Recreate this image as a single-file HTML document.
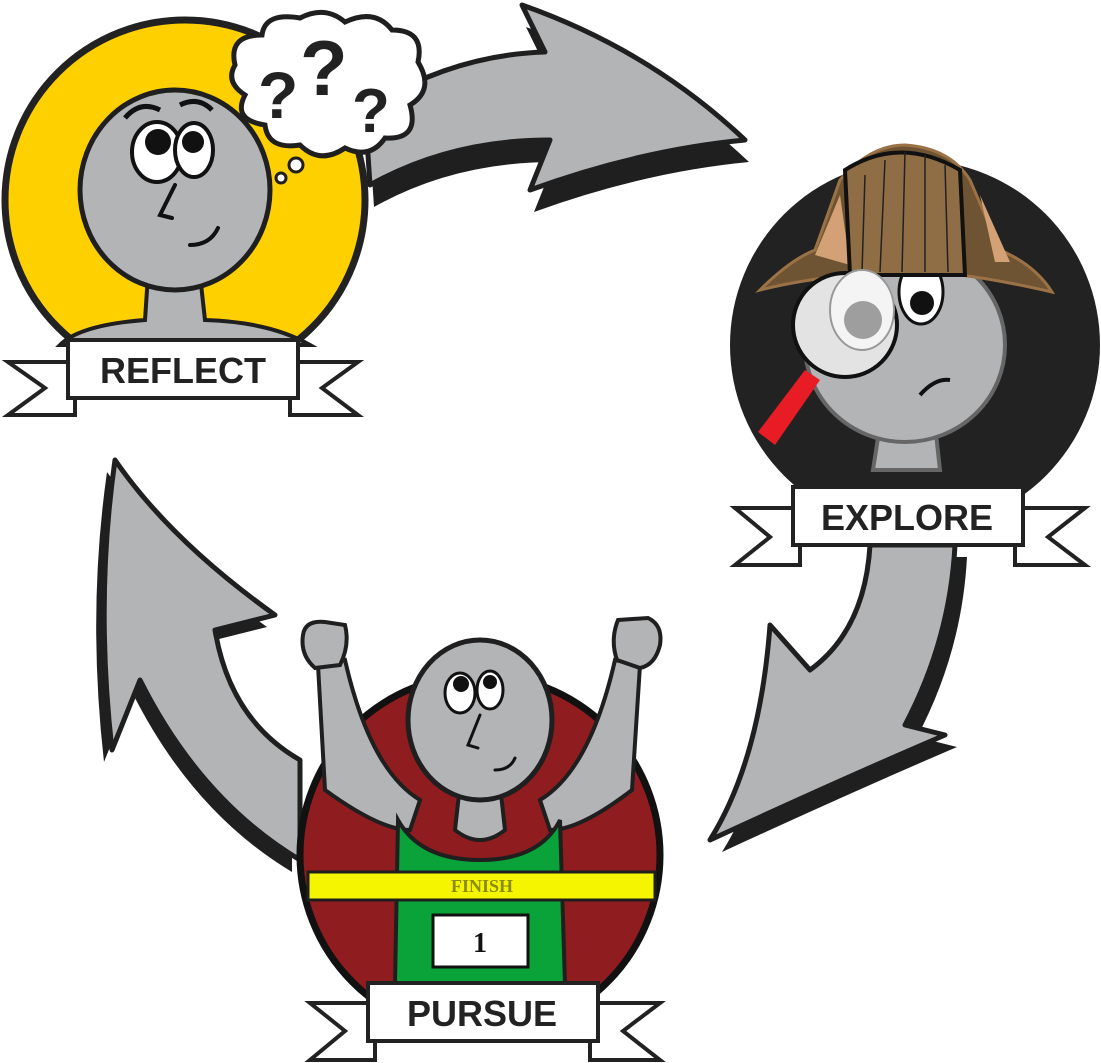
<!DOCTYPE html>
<html><head><meta charset="utf-8"><style>
html,body{margin:0;padding:0;background:#fff;}
svg{display:block;}
text{font-weight:bold;}
.lbl{font-family:"Liberation Sans",sans-serif;}
.ser{font-family:"Liberation Serif",serif;}
</style></head><body>
<svg width="1101" height="1063" viewBox="0 0 1101 1063" xmlns="http://www.w3.org/2000/svg">
<g transform="translate(4,22)"><path d="M365,110 Q450,55 545,52 L522,5 Q650,50 745,140 Q640,150 530,190 L550,140 Q450,140 370,185 Z" fill="#1f1f1f"/></g>
<path d="M365,110 Q450,55 545,52 L522,5 Q650,50 745,140 Q640,150 530,190 L550,140 Q450,140 370,185 Z" fill="#b3b4b6" stroke="#1f1f1f" stroke-width="5" stroke-linejoin="round"/>
<g transform="translate(12,12)"><path d="M870,545 Q865,630 810,670 L770,625 Q760,760 710,840 Q840,780 945,735 L905,725 Q950,640 955,545 Z" fill="#1f1f1f"/></g>
<path d="M870,545 Q865,630 810,670 L770,625 Q760,760 710,840 Q840,780 945,735 L905,725 Q950,640 955,545 Z" fill="#b3b4b6" stroke="#1f1f1f" stroke-width="5" stroke-linejoin="round"/>
<g transform="translate(-8,12)"><path d="M300,760 Q230,720 215,630 L275,615 Q170,540 115,460 Q95,600 112,750 L140,680 Q200,800 300,860 Z" fill="#1f1f1f"/></g>
<path d="M300,760 Q230,720 215,630 L275,615 Q170,540 115,460 Q95,600 112,750 L140,680 Q200,800 300,860 Z" fill="#b3b4b6" stroke="#1f1f1f" stroke-width="5" stroke-linejoin="round"/>

<circle cx="185" cy="200" r="180" fill="#ffd000" stroke="#222" stroke-width="7"/>
<path d="M148,275 L145,320 Q80,325 60,345 L310,345 Q270,322 205,320 L200,275 Z" fill="#b3b4b6" stroke="#1f1f1f" stroke-width="4"/>
<ellipse cx="175" cy="190" rx="95" ry="100" fill="#b3b4b6" stroke="#1f1f1f" stroke-width="5"/>
<ellipse cx="157" cy="152" rx="25" ry="30" fill="#fff" stroke="#111" stroke-width="4"/>
<ellipse cx="194" cy="150" rx="19" ry="27" fill="#fff" stroke="#111" stroke-width="4"/>
<circle cx="158" cy="142" r="13" fill="#111"/><circle cx="193" cy="142" r="11" fill="#111"/>
<path d="M125,118 Q140,100 160,110 M180,105 Q198,96 212,110" stroke="#111" stroke-width="5" fill="none"/>
<path d="M175,185 L160,215 L172,218 M190,245 Q210,245 218,228" stroke="#111" stroke-width="4" fill="none" stroke-linecap="round"/>
<path d="M235,65 Q228,35 262,35 Q265,12 300,18 Q325,5 345,22 Q375,8 392,30 Q425,30 418,62 Q435,90 410,105 Q420,140 385,138 Q370,160 345,148 Q320,165 300,145 Q268,150 265,125 Q232,120 245,95 Q225,82 235,65 Z" fill="#fff" stroke="#1f1f1f" stroke-width="5"/>
<circle cx="296" cy="165" r="7" fill="#fff" stroke="#1f1f1f" stroke-width="3"/>
<circle cx="281" cy="178" r="5" fill="#fff" stroke="#1f1f1f" stroke-width="3"/>
<text class="lbl" x="258" y="118" font-size="66" fill="#222">?</text>
<text class="lbl" x="300" y="95" font-size="78" fill="#222">?</text>
<text class="lbl" x="352" y="132" font-size="62" fill="#222">?</text>
<path d="M8,362 L75,362 L75,415 L8,415 L45,388 Z" fill="#fff" stroke="#222" stroke-width="4"/>
<path d="M358,362 L290,362 L290,415 L358,415 L322,388 Z" fill="#fff" stroke="#222" stroke-width="4"/>
<rect x="68" y="340" width="230" height="58" fill="#fff" stroke="#222" stroke-width="4"/>
<text class="lbl" x="183" y="383" font-size="36" text-anchor="middle" fill="#222">REFLECT</text>

<circle cx="915" cy="345" r="185" fill="#222"/>
<path d="M880,425 L873,470 L940,470 L935,425 Z" fill="#b3b4b6" stroke="#666" stroke-width="4"/>
<ellipse cx="905" cy="345" rx="100" ry="97" fill="#b3b4b6" stroke="#666" stroke-width="4"/>
<ellipse cx="921" cy="292" rx="22" ry="32" fill="#fff" stroke="#111" stroke-width="3"/>
<circle cx="922" cy="303" r="12" fill="#111"/>
<path d="M920,395 Q935,378 950,380" stroke="#111" stroke-width="4" fill="none"/>
<path d="M760,290 Q790,260 815,250 L840,180 Q870,145 905,145 Q950,148 970,180 L1000,250 Q1035,265 1052,292 Q1000,280 960,275 L850,275 Q800,280 760,290 Z" fill="#6e5433" stroke="#9b7245" stroke-width="3"/>
<path d="M815,255 L840,195 L850,265 Z M980,195 L995,262 L1010,262 Z" fill="#d4a075"/>
<path d="M845,170 Q900,135 960,170 L965,275 L850,275 Z" fill="#8f6d45" stroke="#111" stroke-width="4"/>
<path d="M865,175 L862,272 M885,160 L880,272 M905,152 L902,272 M925,155 L925,272 M945,165 L948,272" stroke="#222" stroke-width="1.5" fill="none"/>
<circle cx="845" cy="325" r="52" fill="#e3e3e3" stroke="#111" stroke-width="4"/>
<ellipse cx="862" cy="310" rx="32" ry="40" fill="#f4f4f4" stroke="#999" stroke-width="2"/>
<circle cx="863" cy="320" r="19" fill="#9e9e9e"/>
<path d="M805,370 L820,380 L775,445 L758,432 Z" fill="#e81c24"/>
<path d="M735,508 L800,508 L800,565 L735,565 L770,537 Z" fill="#fff" stroke="#222" stroke-width="4"/>
<path d="M1085,508 L1015,508 L1015,565 L1085,565 L1048,537 Z" fill="#fff" stroke="#222" stroke-width="4"/>
<rect x="793" y="487" width="230" height="58" fill="#fff" stroke="#222" stroke-width="4"/>
<text class="lbl" x="907" y="530" font-size="36" text-anchor="middle" fill="#222">EXPLORE</text>

<circle cx="480" cy="855" r="180" fill="#8f1c1e" stroke="#111" stroke-width="7"/>
<path d="M318,665 L325,790 Q380,830 410,830 L420,800 Q370,770 345,660 Z" fill="#b3b4b6" stroke="#1f1f1f" stroke-width="4"/>
<path d="M640,665 L632,790 Q580,830 550,830 L540,800 Q590,770 615,660 Z" fill="#b3b4b6" stroke="#1f1f1f" stroke-width="4"/>
<path d="M303,635 Q305,620 325,622 L345,625 Q350,645 340,665 L315,668 Q300,655 303,635 Z" fill="#b3b4b6" stroke="#1f1f1f" stroke-width="4"/>
<path d="M618,620 L648,618 Q663,625 660,645 Q655,665 640,668 L617,660 Q610,640 618,620 Z" fill="#b3b4b6" stroke="#1f1f1f" stroke-width="4"/>
<path d="M398,820 Q420,860 480,860 Q540,860 560,820 L565,985 L395,985 Z" fill="#0aa33a" stroke="#1f1f1f" stroke-width="4"/>
<path d="M460,785 L455,830 Q480,850 505,830 L500,785 Z" fill="#b3b4b6" stroke="#1f1f1f" stroke-width="4"/>
<ellipse cx="480" cy="720" rx="72" ry="80" fill="#b3b4b6" stroke="#1f1f1f" stroke-width="5"/>
<ellipse cx="460" cy="693" rx="15" ry="20" fill="#fff" stroke="#111" stroke-width="3"/>
<ellipse cx="490" cy="690" rx="13" ry="19" fill="#fff" stroke="#111" stroke-width="3"/>
<circle cx="461" cy="684" r="8" fill="#111"/><circle cx="490" cy="682" r="7" fill="#111"/>
<path d="M480,715 L468,745 L478,748 M495,770 Q510,770 515,758" stroke="#111" stroke-width="3" fill="none" stroke-linecap="round"/>
<rect x="308" y="872" width="347" height="28" fill="#f5f500" stroke="#1f1f1f" stroke-width="3"/>
<text class="ser" x="482" y="892" font-size="18" text-anchor="middle" fill="#8a8a10">FINISH</text>
<rect x="433" y="915" width="95" height="52" fill="#fff" stroke="#111" stroke-width="3"/>
<text class="ser" x="480" y="952" font-size="28" text-anchor="middle" fill="#111">1</text>
<path d="M310,1003 L375,1003 L375,1060 L310,1060 L345,1031 Z" fill="#fff" stroke="#222" stroke-width="4"/>
<path d="M660,1003 L590,1003 L590,1060 L660,1060 L623,1031 Z" fill="#fff" stroke="#222" stroke-width="4"/>
<rect x="368" y="983" width="230" height="58" fill="#fff" stroke="#222" stroke-width="4"/>
<text class="lbl" x="482" y="1026" font-size="36" text-anchor="middle" fill="#222">PURSUE</text>
</svg>
</body></html>
